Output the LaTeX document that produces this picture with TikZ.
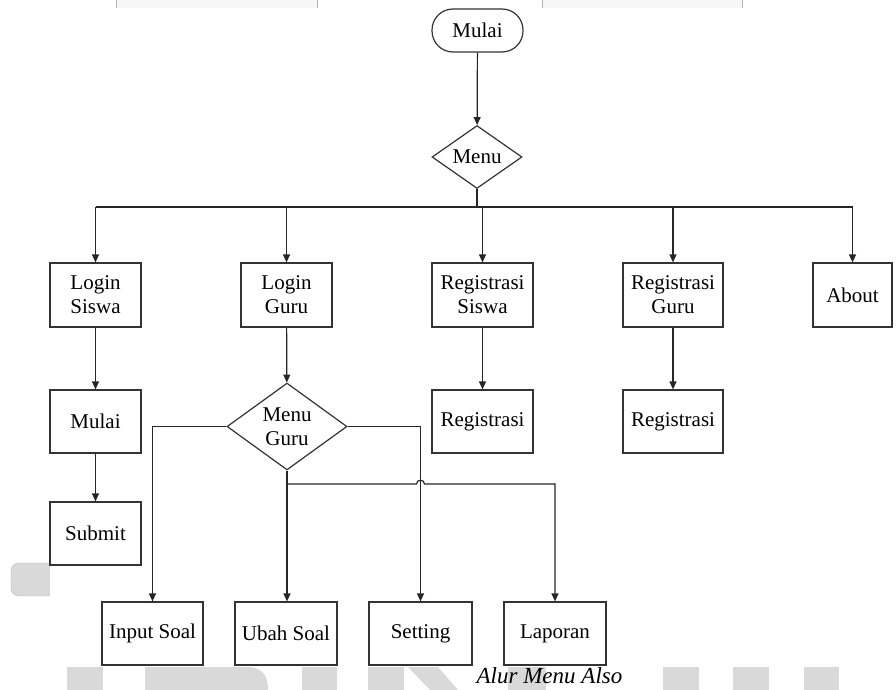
\documentclass[tikz,border=0pt]{standalone}
\usepackage{fontspec}
\setmainfont{Liberation Serif}
\usetikzlibrary{shapes.geometric,arrows.meta}
\begin{document}
\begin{tikzpicture}[x=1pt,y=-1pt,
  txt/.style={font=\fontsize{21}{24}\selectfont},
  box/.style={txt, draw=black!80, line width=1.2pt, fill=white, minimum height=63pt, align=center, inner sep=1pt},
  dia/.style={txt, diamond, draw=black!80, line width=1.2pt, fill=white, inner sep=0pt, align=center},
  conn/.style={draw=black!85, line width=1.2pt},
  arr/.style={conn, -{Triangle[length=8pt,width=7pt]}},
  wm/.style={fill=gray!30},
  tbl/.style={draw=gray!60, line width=0.8pt}]
\useasboundingbox (0,0) rectangle (896,690);
% top table remnants
\fill[gray!6] (116,0) rectangle (317,8);
\fill[gray!6] (542,0) rectangle (742,8);
\draw[tbl] (116,0) -- (116,8);
\draw[tbl] (317,0) -- (317,8);
\draw[tbl] (542,0) -- (542,8);
\draw[tbl] (742,0) -- (742,8);
% watermark shapes
\fill[wm, draw=gray!55, rounded corners=8pt] (11,563) rectangle (62,596);
\fill[white] (49.5,560) rectangle (64,600);
\fill[wm] (67,667) rectangle (103,690);
\fill[wm] (145,667) -- (246,667) .. controls (262,667) and (268,675) .. (268,690) -- (145,690) -- cycle;
\fill[wm] (302,667) rectangle (337,690);
\fill[wm] (368,667) -- (404,667) -- (404,690) -- (368,690) -- cycle;
\fill[wm] (408,667) -- (438,667) -- (458,690) -- (430,690) -- cycle;
\fill[wm] (508,667) rectangle (546,690);
\fill[wm] (663,667) rectangle (699,690);
\fill[wm] (733,667) rectangle (769,690);
\fill[wm] (804,667) rectangle (839,690);
% nodes
\node[txt, draw=black!80, line width=1.2pt, rounded corners=21pt, minimum width=91pt, minimum height=43pt, inner sep=1pt] (start) at (477.5,30.5) {Mulai};
\node[dia, minimum width=90pt, minimum height=61pt] (menu) at (477,157) {Menu};
\node[box, minimum width=91pt, minimum height=64pt] (ls) at (95.5,295) {Login\\Siswa};
\node[box, minimum width=91pt, minimum height=64pt] (lg) at (286.5,295) {Login\\Guru};
\node[box, minimum width=101pt, minimum height=64pt] (rs) at (482.5,295) {Registrasi\\Siswa};
\node[box, minimum width=100pt, minimum height=64pt] (rg) at (673,295) {Registrasi\\Guru};
\node[box, minimum width=79pt, minimum height=64pt] (ab) at (852.5,295) {About};
\node[box, minimum width=91pt] (m2) at (95.5,421.5) {Mulai};
\node[box, minimum width=91pt] (sb) at (95.5,533.5) {Submit};
\node[dia, minimum width=120pt, minimum height=77pt] (mg) at (287,426.5) {Menu\\Guru};
\node[box, minimum width=101pt] (r1) at (482.5,421.5) {Registrasi};
\node[box, minimum width=100pt] (r2) at (673,421.5) {Registrasi};
\node[box, minimum width=101pt] (is) at (152.5,633.5) {Input Soal};
\node[box, minimum width=102pt] (us) at (286,633.5) {Ubah Soal};
\node[box, minimum width=103pt] (st) at (420.5,633.5) {Setting};
\node[box, minimum width=102pt] (lp) at (555,633.5) {Laporan};
\node[font=\fontsize{23}{25}\selectfont\itshape, anchor=base, inner sep=0pt] (cap) at (549.5,683) {Alur Menu Also};
% connectors
\coordinate (bus) at (0,207);
\coordinate (j) at (0,484);
\draw[arr] (start) -- (menu);
\draw[conn, line width=1.8pt] (menu.south) -- (menu.south |- bus);
\draw[conn] (ls.north |- bus) -- (ab.north |- bus);
\draw[arr] (ls.north |- bus) -- (ls.north);
\draw[arr] (lg.north |- bus) -- (lg.north);
\draw[arr] (rs.north |- bus) -- (rs.north);
\draw[arr] (rg.north |- bus) -- (rg.north);
\draw[arr] (ab.north |- bus) -- (ab.north);
\draw[arr] (ls) -- (m2);
\draw[arr] (m2) -- (sb);
\draw[arr] (lg) -- (mg);
\draw[arr] (rs) -- (r1);
\draw[arr] (rg) -- (r2);
\draw[arr] (mg.west) -| (is.north);
\draw[arr] (mg.east) -| (st.north);
\draw[arr] (mg.south) -- (mg.south |- is.north);
\draw[arr] (mg.south |- j) -- ([xshift=-4pt]st.north |- j) .. controls +(0,-5) and +(0,-5) .. ([xshift=4pt]st.north |- j) -- (lp.north |- j) -- (lp.north);
\end{tikzpicture}
\end{document}
